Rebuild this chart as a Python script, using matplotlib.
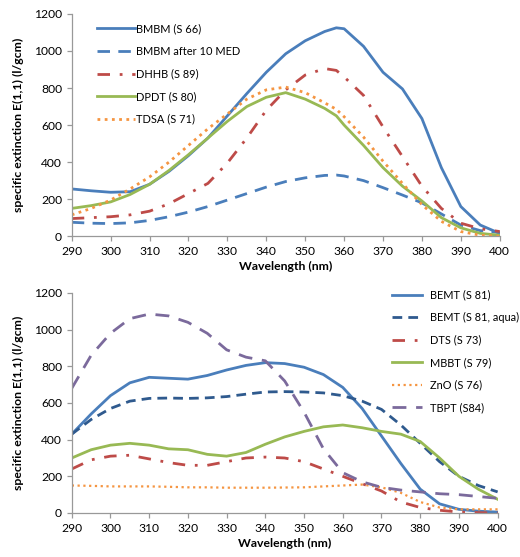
import matplotlib
matplotlib.use("Agg")
import matplotlib.pyplot as plt

plt.rcParams['font.family'] = ['Lato', 'DejaVu Sans']

# ---- Top chart data ----
wl_top = [290, 295, 300, 305, 310, 315, 320, 325, 330, 335, 340, 345, 350, 355, 358, 360, 365, 370, 375, 380, 385, 390, 395, 400]
bmbm = [255, 245, 237, 240, 280, 350, 435, 530, 650, 770, 885, 985, 1055, 1105, 1125, 1120, 1025, 885, 795, 635, 370, 160, 60, 15]
bmbm_med = [75, 70, 68, 72, 85, 105, 130, 160, 195, 230, 265, 295, 315, 328, 330, 325, 300, 262, 222, 180, 120, 60, 30, 20]
dhhb = [95, 100, 105, 115, 135, 175, 230, 285, 395, 530, 680, 790, 870, 905, 895, 860, 760, 590, 430, 270, 150, 70, 40, 25]
dpdt = [150, 165, 185, 225, 280, 355, 440, 530, 620, 700, 750, 775, 740, 690, 650, 600, 490, 370, 270, 190, 100, 45, 15, 5]
tdsa = [115, 150, 195, 255, 320, 400, 490, 580, 660, 740, 790, 805, 775, 720, 685, 645, 535, 405, 285, 170, 80, 25, 5, 0]
top_labels = ['BMBM (S 66)', 'BMBM after 10 MED', 'DHHB (S 89)', 'DPDT (S 80)', 'TDSA (S 71)']

# ---- Bottom chart data ----
wl_bot = [290, 295, 300, 305, 310, 315, 320, 325, 330, 335, 340, 345, 350, 355, 360, 365, 370, 375, 380, 385, 390, 395, 400]
bemt = [430, 540, 640, 710, 740, 735, 730, 750, 780, 805, 820, 815, 795, 755, 685, 570, 420, 270, 130, 50, 20, 10, 5]
bemt_aqua = [430, 510, 570, 610, 625, 627, 625, 628, 635, 648, 660, 662, 660, 655, 640, 610, 565, 480, 380, 280, 200, 150, 115]
dts = [240, 290, 310, 315, 295, 275, 260, 260, 280, 300, 305, 300, 280, 240, 200, 160, 120, 60, 30, 15, 5, 2, 0]
mbbt = [300, 345, 370, 380, 370, 350, 345, 320, 310, 330, 375, 415, 445, 470, 480, 465, 445, 430, 390, 300, 200, 130, 75]
zno = [150, 148, 145, 145, 145, 143, 140, 140, 138, 138, 138, 139, 140, 145, 150, 155, 140, 110, 60, 30, 20, 20, 20]
tbpt = [680, 860, 980, 1060, 1085, 1075, 1040, 980, 890, 850, 830, 720, 550, 350, 220, 170, 140, 125, 115, 105, 100, 90, 80]
bot_labels = ['BEMT (S 81)', 'BEMT (S 81, aqua)', 'DTS (S 73)', 'MBBT (S 79)', 'ZnO (S 76)', 'TBPT (S84)']

xticks = list(range(290, 401, 10))
yticks = list(range(0, 1201, 200))

BLUE = '#4A7EBB'
DBLUE = '#2F5A8E'
RED = '#BE4B48'
GREEN = '#98B954'
ORANGE = '#F59541'
PURPLE = '#7B6A9C'

fig = plt.figure(figsize=(5.2, 5.57), dpi=100)
ax1 = fig.add_axes([0.138, 0.576, 0.823, 0.399])
ax2 = fig.add_axes([0.138, 0.079, 0.819, 0.395])

lw = 2.0
ax1.plot(wl_top, bmbm, color=BLUE, lw=lw, label=top_labels[0])
ax1.plot(wl_top, bmbm_med, color=BLUE, lw=lw, dashes=(4.5, 3), label=top_labels[1])
ax1.plot(wl_top, dhhb, color=RED, lw=lw, dashes=(4.5, 3.5, 1, 3.5), label=top_labels[2])
ax1.plot(wl_top, dpdt, color=GREEN, lw=lw, label=top_labels[3])
ax1.plot(wl_top, tdsa, color=ORANGE, lw=lw, dashes=(1, 1.6), label=top_labels[4])

ax2.plot(wl_bot, bemt, color=BLUE, lw=lw, label=bot_labels[0])
ax2.plot(wl_bot, bemt_aqua, color=DBLUE, lw=lw, dashes=(3.5, 2.2), label=bot_labels[1])
ax2.plot(wl_bot, dts, color=RED, lw=lw, dashes=(4.5, 3.5, 1, 3.5), label=bot_labels[2])
ax2.plot(wl_bot, mbbt, color=GREEN, lw=lw, label=bot_labels[3])
ax2.plot(wl_bot, zno, color=ORANGE, lw=1.6, dashes=(1, 1.6), label=bot_labels[4])
ax2.plot(wl_bot, tbpt, color=PURPLE, lw=lw, dashes=(5, 3.5), label=bot_labels[5])

for ax in (ax1, ax2):
    ax.set_xlim(290, 400)
    ax.set_ylim(0, 1200)
    ax.set_xticks(xticks)
    ax.set_yticks(yticks)
    for s in ('top', 'right'):
        ax.spines[s].set_visible(False)
    for s in ('left', 'bottom'):
        ax.spines[s].set_color('#999999')
        ax.spines[s].set_linewidth(0.9)
    ax.tick_params(axis='both', colors='#999999', labelcolor='black', labelsize=8.7,
                   length=3.5, width=0.9, direction='out')
    ax.set_xlabel('Wavelength (nm)', fontsize=8.8, fontweight='bold', labelpad=3)
    ax.set_ylabel('specific extinction E(1,1) (l/gcm)', fontsize=8.8, fontweight='bold', labelpad=7)

ax1.legend(loc='upper left', bbox_to_anchor=(0.179, 0.966), bbox_transform=fig.transFigure,
           frameon=False, fontsize=7.9, handlelength=3.4, handletextpad=0.1,
           labelspacing=1.05, borderaxespad=0)
ax2.legend(loc='upper left', bbox_to_anchor=(0.746, 0.488), bbox_transform=fig.transFigure,
           frameon=False, fontsize=7.9, handlelength=2.7, handletextpad=0.7,
           labelspacing=1.05, borderaxespad=0)

fig.savefig('out.png', dpi=100)
